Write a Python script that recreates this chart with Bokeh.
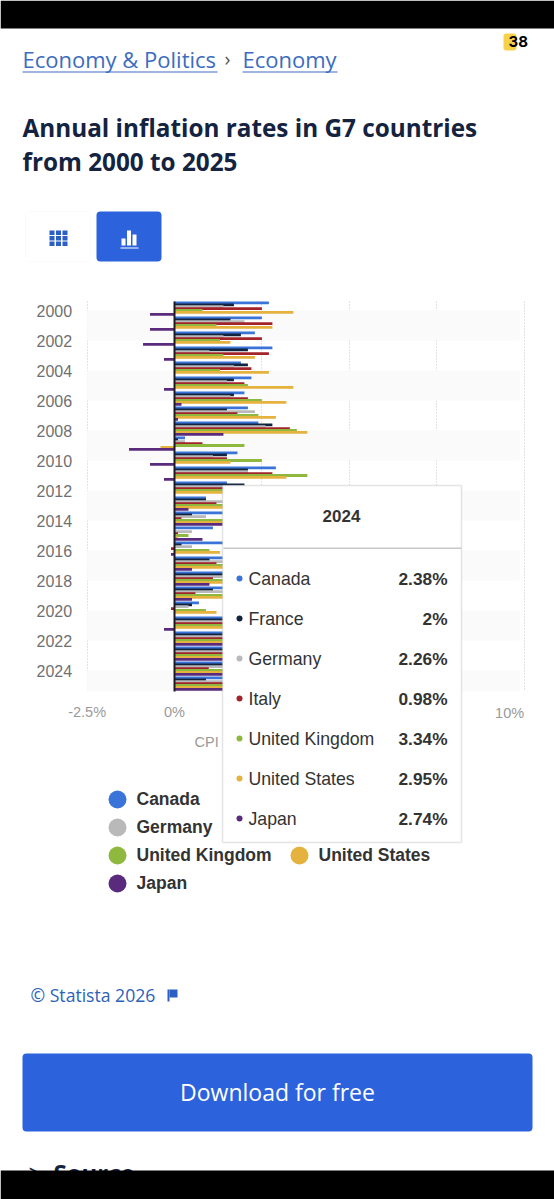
from bokeh.plotting import figure
from bokeh.embed import file_html
from bokeh.resources import INLINE
from bokeh.models import (BoxAnnotation, Label, Range1d, LinearAxis, FixedTicker)

years = list(range(2000, 2026))
canada = [2.7,2.5,2.3,2.8,1.9,2.2,2.0,2.1,2.4,0.3,1.8,2.9,1.5,0.9,1.9,1.1,1.4,1.6,2.3,1.9,0.7,3.4,6.8,3.9,2.38,2.1]
france = [1.7,1.6,1.9,2.1,2.1,1.7,1.7,1.5,2.8,0.1,1.5,2.1,2.0,0.9,0.5,0.0,0.2,1.0,1.9,1.1,0.5,1.6,5.2,4.9,2.0,0.9]
germany = [1.4,2.0,1.4,1.0,1.7,1.5,1.6,2.3,2.6,0.3,1.1,2.1,2.0,1.5,0.9,0.5,0.5,1.5,1.7,1.4,0.4,3.1,6.9,5.9,2.26,2.2]
italy = [2.5,2.8,2.5,2.7,2.2,2.0,2.1,1.8,3.3,0.8,1.5,2.8,3.0,1.2,0.2,0.1,-0.1,1.2,1.1,0.6,-0.1,1.9,7.9,5.9,0.98,1.6]
uk = [0.8,1.2,1.3,1.4,1.3,2.1,2.5,2.4,3.5,2.0,2.5,3.8,2.6,2.6,1.5,0.4,1.0,2.6,2.5,1.8,0.9,2.6,7.9,7.3,3.34,3.4]
us = [3.4,2.8,1.6,2.3,2.7,3.4,3.2,2.9,3.8,-0.4,1.6,3.2,2.1,1.5,1.6,0.1,1.3,2.1,2.4,1.8,1.2,4.7,7.9,4.1,2.95,2.7]
japan = [-0.7,-0.7,-0.9,-0.3,0.0,-0.3,0.2,0.1,1.4,-1.3,-0.7,-0.3,0.0,0.4,2.8,0.8,-0.1,0.5,1.0,0.5,0.0,-0.3,2.5,3.3,2.74,3.2]

series_names = ["Canada","France","Germany","Italy","United Kingdom","United States","Japan"]
series_values = [canada,france,germany,italy,uk,us,japan]
colors = ["#3b74d8","#12233f","#b9b9b9","#a3232a","#8fb93e","#e5b23d","#5a2b7d"]
tooltip_year = "2024"
tooltip_values = ["2.38%","2%","2.26%","0.98%","3.34%","2.95%","2.74%"]
x_ticks = [-2.5,0,2.5,5,7.5,10]

FONT = "Open Sans"
CHART = "Liberation Sans"
BLUE = "#2c63dd"

W, H = 554, 1199
PX_X = 34.96      # px per percent
PX_Y = 15.0       # px per year
X0, Y0 = 174.0, 301.0   # page position of 0% and the top of the plot area
Y_TOP, Y_BOT = years[0]-0.5, years[-1]+0.5

p = figure(width=W, height=H, output_backend="svg", toolbar_location=None,
           x_range=Range1d(-X0/PX_X, (W-X0)/PX_X),
           y_range=Range1d(Y_TOP+(H-Y0)/PX_Y, Y_TOP-Y0/PX_Y),
           min_border=0, outline_line_color=None, margin=0, y_axis_location=None)

# axes: sit at fixed places inside the full-page frame
p.xaxis.ticker = FixedTicker(ticks=x_ticks[:2])
p.xaxis.major_label_overrides = {-2.5:"-2.5%",0:"0%"}
p.xaxis.fixed_location = Y_BOT
p.xaxis.axis_line_color = None
p.xaxis.major_tick_line_color = None
p.xaxis.minor_tick_line_color = None
p.xaxis.major_label_text_color = "#9a9a9a"
p.xaxis.major_label_text_font = CHART
p.xaxis.major_label_text_font_size = "14.5px"
p.xaxis.major_label_standoff = 6

p.extra_y_ranges = {"labels": Range1d(Y_TOP+(H-Y0-1.5)/PX_Y, Y_TOP-(Y0+1.5)/PX_Y)}
yax = LinearAxis(y_range_name="labels", ticker=FixedTicker(ticks=years[::2]), fixed_location=x_ticks[0])
yax.major_label_overrides = {y:str(y) for y in years}
yax.axis_line_color = None
yax.major_tick_line_color = None
yax.minor_tick_line_color = None
yax.major_label_text_color = "#707070"
yax.major_label_text_font = CHART
yax.major_label_text_font_size = "16px"
yax.major_label_standoff = 9
p.add_layout(yax, "left")

p.ygrid.visible = False
p.xgrid.ticker = FixedTicker(ticks=x_ticks)
p.xgrid.cross_bounds = (Y_TOP, Y_BOT)
p.xgrid.grid_line_color = "#c4c4c4"
p.xgrid.grid_line_dash = [1,2]
p.xgrid.level = "underlay"

# alternating bands
for y in years[::4]:
    p.add_layout(BoxAnnotation(left=x_ticks[0], right=x_ticks[-1]-0.12, bottom=y+0.1, top=min(y+2.1, Y_BOT),
                               fill_color="#fafafa", fill_alpha=1, line_color=None, level="underlay"))

# bars
step = 1.9/PX_Y
for i,(vals,c) in enumerate(zip(series_values,colors)):
    p.hbar(y=[yr+(i-3.2)*step for yr in years], left=0, right=vals, height=2.8/PX_Y,
           color=c, line_color=None)

# zero line
p.segment(x0=[0], y0=[Y_TOP], x1=[0], y1=[Y_BOT], line_color="#1a1a26", line_width=2)

def box(l,t,r,b,color,radius=0,line=None,lw=1):
    a = BoxAnnotation(left=l,right=r,top=t,bottom=b,left_units="canvas",right_units="canvas",
                      top_units="canvas",bottom_units="canvas",fill_color=color,fill_alpha=1,
                      line_color=line,line_width=lw,border_radius=radius)
    p.add_layout(a)
    return a

def text(x,y,s,size,color="#333333",font=CHART,style="normal",align="left",baseline="middle"):
    p.add_layout(Label(x=x,y=y,x_units="canvas",y_units="canvas",text=s,text_font=font,
                       text_font_size=f"{size}px",text_color=color,text_font_style=style,
                       text_align=align,text_baseline=baseline))

# x label that sits inside the plot edge
p.add_layout(Label(x=x_ticks[-1],y=712,x_units="data",y_units="canvas",text="10%",text_align="right",
                   text_baseline="middle",text_font=CHART,text_font_size="14.5px",text_color="#9a9a9a"))
text(194,741,"CPI",14.5,"#9a9a9a")

# header
text(22,58,"Economy & Politics",22,"#3c6cc0",FONT)
box(22,71,217,72,"#3c6cc0")
text(224,58,"›",20,"#555555",FONT)
text(242,58,"Economy",22,"#3c6cc0",FONT)
box(242,71,337,72,"#3c6cc0")
text(22,127,"Annual inflation rates in G7 countries",24.3,"#14233f",FONT,"bold")
text(22,161,"from 2000 to 2025",24.3,"#14233f",FONT,"bold")
box(503,33,516,50,"#f5d24a",3)
text(508,41,"38",15,"#000000","Inter","bold")

# view buttons
box(25,211,90,261,"#ffffff",4,"#f0f0f0",1)
for cx in (49,55.5,62):
    for cy in (230,235.5,241):
        box(cx,cy,cx+5,cy+4.5,"#2c5fc4")
box(96,211,161,261,BLUE,4)
box(121,238,125,245,"#ffffff")
box(126.5,230,130.5,245,"#ffffff")
box(132,234,136,245,"#ffffff")
box(120,247,138,248,"#ffffff")

# legend
legend_rows = [(0,117,136,799),(2,117,136,827),(4,117,136,855),(5,299,318,855),(6,117,136,883)]
for i,dx,tx,y in legend_rows:
    box(dx-9,y-9,dx+9,y+9,colors[i],9)
    text(tx,y-1,series_names[i],17.5,"#333333",CHART,"bold")

# tooltip
box(222,485,461,842,"#ffffff",1,"#a6a6a6",1.5)
box(223,547,461,548.5,"#c8c8c8")
text(341,515,tooltip_year,17,"#333333",CHART,"bold","center")
for i,(n,v) in enumerate(zip(series_names,tooltip_values)):
    y = 579+40*i
    box(236,y-4,242,y+2,colors[i],3)
    text(248,y-1,n,17.7,"#333333",CHART)
    text(447,y-1,v,17.3,"#333333",CHART,"bold","right")

# footer
text(30,994,"© Statista 2026",17.6,"#2c62b8",FONT)
box(167,989,169,1001,"#2c5fc4")
box(169,989,177,997,"#2c5fc4")
box(22,1053,532,1131,BLUE,4)
text(277,1091,"Download for free",23,"#ffffff",FONT,"normal","center")
text(28,1172,">",24,"#14233f",FONT,"normal")
text(53,1172,"Source",24,"#14233f",FONT,"bold")

# device bars
box(0,0,W,28,"#000000")
box(0,1170,W,H,"#000000")

open("out.html","w").write(file_html(p, INLINE))
